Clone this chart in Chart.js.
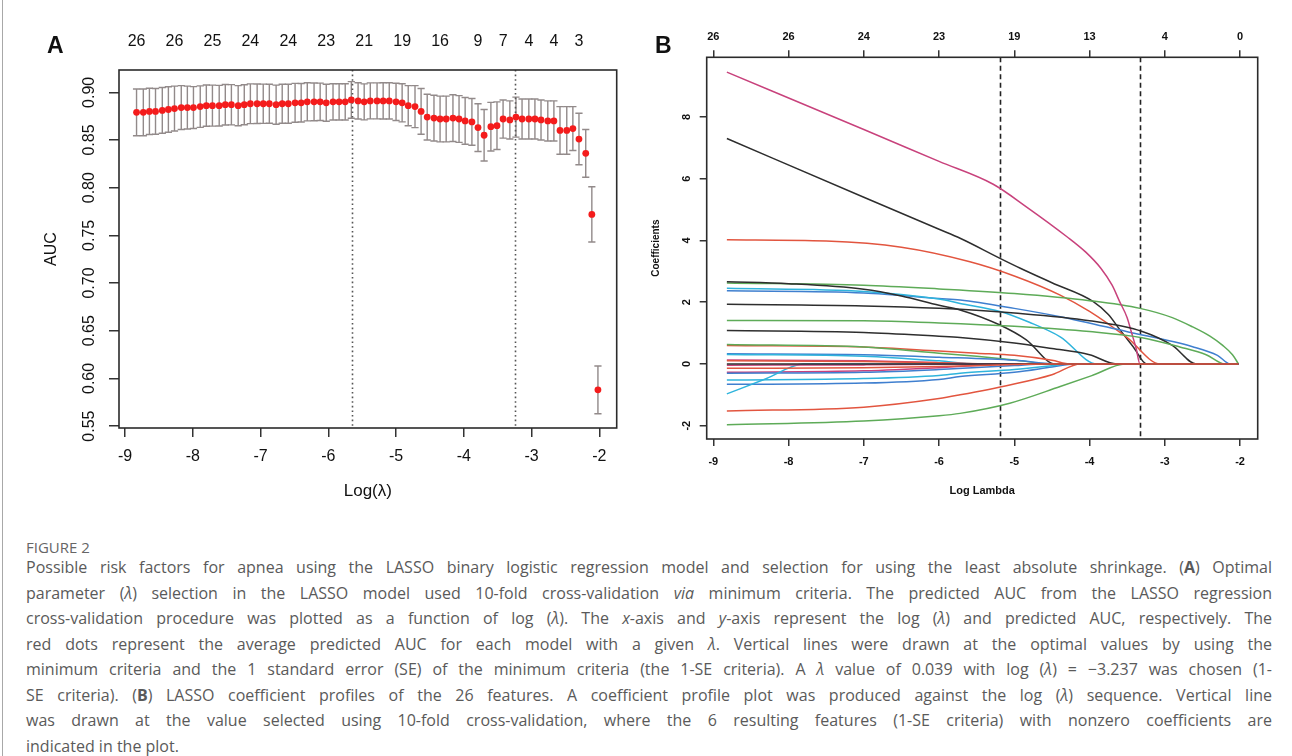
<!DOCTYPE html>
<html>
<head>
<meta charset="utf-8">
<script src="https://cdn.jsdelivr.net/npm/chart.js@4.4.1/dist/chart.umd.min.js"></script>
<style>
  body { margin: 0; background: #fff; width: 1292px; height: 756px; overflow: hidden; position: relative; font-family: 'Liberation Sans', Arial, sans-serif; }
  #frame { position: absolute; left: 2px; top: 0; width: 1px; height: 756px; background: #a8a8a8; }
  #cvA { position: absolute; left: 0; top: 0; }
  #cvB { position: absolute; left: 640px; top: 0; }
  .panel { position: absolute; font-weight: bold; font-size: 23px; color: #111; }
  #figno { position: absolute; left: 26px; top: 537px; font-family: 'Open Sans', sans-serif; font-size: 15px; color: #666; }
  #caption { position: absolute; left: 26px; top: 555px; width: 1246px; font-family: 'Open Sans', sans-serif; font-size: 16px; line-height: 25.5px; color: #5a5a5a; }
  #caption div { text-align: justify; text-align-last: justify; white-space: normal; }
  #caption div.last { text-align-last: left; }
</style>
</head>
<body>
<div id="frame"></div>
<canvas id="cvA" width="640" height="510"></canvas>
<canvas id="cvB" width="652" height="510"></canvas>
<div class="panel" style="left:47px; top:32px;">A</div>
<div class="panel" style="left:655px; top:32px;">B</div>
<div id="figno">FIGURE 2</div>
<div id="caption">
  <div>Possible risk factors for apnea using the LASSO binary logistic regression model and selection for using the least absolute shrinkage. (<b>A</b>) Optimal</div>
  <div>parameter (<i>λ</i>) selection in the LASSO model used 10-fold cross-validation <i>via</i> minimum criteria. The predicted AUC from the LASSO regression</div>
  <div>cross-validation procedure was plotted as a function of log (<i>λ</i>). The <i>x</i>-axis and <i>y</i>-axis represent the log (<i>λ</i>) and predicted AUC, respectively. The</div>
  <div>red dots represent the average predicted AUC for each model with a given <i>λ</i>. Vertical lines were drawn at the optimal values by using the</div>
  <div>minimum criteria and the 1 standard error (SE) of the minimum criteria (the 1-SE criteria). A <i>λ</i> value of 0.039 with log (<i>λ</i>) = −3.237 was chosen (1-</div>
  <div>SE criteria). (<b>B</b>) LASSO coefficient profiles of the 26 features. A coefficient profile plot was produced against the log (<i>λ</i>) sequence. Vertical line</div>
  <div>was drawn at the value selected using 10-fold cross-validation, where the 6 resulting features (1-SE criteria) with nonzero coefficients are</div>
  <div class="last">indicated in the plot.</div>
</div>
<script>
// ---- panel A: cross-validated AUC ----
const logLambda = [
  -8.83, -8.73, -8.64, -8.55, -8.45, -8.36, -8.27, -8.17, -8.08, -7.99,
  -7.89, -7.80, -7.71, -7.61, -7.52, -7.43, -7.33, -7.24, -7.15, -7.05,
  -6.96, -6.87, -6.77, -6.68, -6.59, -6.49, -6.40, -6.31, -6.21, -6.12,
  -6.03, -5.93, -5.84, -5.75, -5.66, -5.56, -5.47, -5.38, -5.28, -5.19,
  -5.10, -5.00, -4.91, -4.82, -4.72, -4.63, -4.54, -4.44, -4.35, -4.26,
  -4.16, -4.07, -3.98, -3.88, -3.79, -3.70, -3.60, -3.51, -3.42, -3.32,
  -3.23, -3.14, -3.04, -2.95, -2.86, -2.76, -2.67, -2.58, -2.48, -2.39,
  -2.30, -2.20, -2.11, -2.02
];
const cvm = [
  0.879, 0.879, 0.880, 0.880, 0.881, 0.882, 0.883, 0.884, 0.884, 0.884,
  0.885, 0.886, 0.886, 0.886, 0.887, 0.887, 0.886, 0.887, 0.888, 0.888,
  0.888, 0.888, 0.887, 0.888, 0.888, 0.889, 0.889, 0.890, 0.890, 0.890,
  0.889, 0.890, 0.890, 0.890, 0.892, 0.891, 0.890, 0.891, 0.891, 0.891,
  0.891, 0.890, 0.889, 0.886, 0.885, 0.880, 0.874, 0.873, 0.872, 0.872,
  0.873, 0.872, 0.870, 0.869, 0.863, 0.855, 0.864, 0.865, 0.872, 0.871,
  0.874, 0.872, 0.872, 0.872, 0.871, 0.870, 0.870, 0.860, 0.860, 0.862,
  0.851, 0.836, 0.772, 0.588
];
const cvsd = [
  0.0245, 0.0245, 0.0243, 0.0240, 0.0240, 0.0238, 0.0235, 0.0230, 0.0225, 0.0220,
  0.0218, 0.0216, 0.0215, 0.0213, 0.0212, 0.0211, 0.0210, 0.0210, 0.0208, 0.0207,
  0.0206, 0.0205, 0.0205, 0.0205, 0.0204, 0.0204, 0.0202, 0.0200, 0.0198, 0.0196,
  0.0194, 0.0190, 0.0190, 0.0190, 0.0192, 0.0190, 0.0189, 0.0189, 0.0189, 0.0190,
  0.0190, 0.0195, 0.0200, 0.0210, 0.0220, 0.0240, 0.0240, 0.0240, 0.0240, 0.0240,
  0.0245, 0.0245, 0.0245, 0.0245, 0.0250, 0.0270, 0.0255, 0.0250, 0.0200, 0.0200,
  0.0210, 0.0210, 0.0210, 0.0210, 0.0210, 0.0210, 0.0210, 0.0250, 0.0250, 0.0230,
  0.0270, 0.0250, 0.0290, 0.0250
];
const yTicksA = [0.55, 0.60, 0.65, 0.70, 0.75, 0.80, 0.85, 0.90];
const xTicks = [-9, -8, -7, -6, -5, -4, -3, -2];
const topPosA = [-8.83, -8.27, -7.71, -7.15, -6.59, -6.03, -5.47, -4.91, -4.35, -3.79, -3.42, -3.04, -2.67, -2.30];
const topNzA = [26, 26, 25, 24, 24, 23, 21, 19, 16, 9, 7, 4, 4, 3];
const lambdaLinesA = [-5.655, -3.237];

// ---- panel B: coefficient profiles ([log lambda, coefficient] knots) ----
const topNzB = [26, 26, 24, 23, 19, 13, 4, 0];
const yTicksB = [-2, 0, 2, 4, 6, 8];
const lambdaLinesB = [-5.19, -3.33];
const coefPaths = [
  [[-8.82, 7.30], [-7, 5.40], [-6, 4.36], [-5.72, 4.07], [-5.19, 3.42], [-4.92, 3.10], [-4.5, 2.63], [-3.95, 2.02], [-3.75, 1.60], [-3.6, 1.12], [-3.42, 0.56], [-3.24, 0], [-2.02, 0]],
  [[-8.82, 4.02], [-7.5, 3.98], [-6.5, 3.78], [-5.59, 3.31], [-5, 2.85], [-4.39, 2.23], [-4, 1.70], [-3.5, 0.85], [-3.06, 0], [-2.02, 0]],
  [[-8.82, 2.62], [-7, 2.55], [-6, 2.43], [-5, 2.28], [-4, 2.05], [-3.33, 1.80], [-2.9, 1.50], [-2.63, 1.20], [-2.4, 0.90], [-2.23, 0.60], [-2.1, 0.30], [-2.02, 0]],
  [[-8.82, 2.37], [-7, 2.30], [-6, 2.12], [-5.72, 2.07], [-5, 1.80], [-4.39, 1.53], [-3.51, 1.05], [-2.63, 0.56], [-2.3, 0.28], [-2.13, 0], [-2.02, 0]],
  [[-8.82, 2.45], [-7, 2.35], [-6, 2.10], [-5.72, 1.96], [-5.19, 1.70], [-4.8, 1.35], [-4.39, 0.88], [-3.9, 0], [-2.02, 0]],
  [[-8.82, 9.45], [-7, 7.59], [-6, 6.56], [-5.28, 5.82], [-4.84, 5.09], [-4.30, 4.12], [-4.05, 3.62], [-3.85, 3.10], [-3.7, 2.55], [-3.6, 2.02], [-3.5, 1.50], [-3.44, 1.00], [-3.38, 0.50], [-3.33, 0], [-2.02, 0]],
  [[-8.82, 2.66], [-8, 2.60], [-7, 2.42], [-6.5, 2.20], [-6, 1.90], [-5.72, 1.75], [-5.19, 1.26], [-4.84, 0.78], [-4.46, 0], [-2.02, 0]],
  [[-8.82, 0.60], [-7, 0.55], [-6, 0.42], [-5.5, 0.35], [-5, 0.28], [-4.5, 0.12], [-4.25, 0], [-2.02, 0]],
  [[-8.82, 0.63], [-7, 0.55], [-6, 0.35], [-5.5, 0.25], [-5, 0.13], [-4.5, 0], [-2.02, 0]],
  [[-8.82, 0.33], [-7, 0.30], [-6, 0.22], [-5, 0.12], [-4.4, 0], [-2.02, 0]],
  [[-8.82, 0.31], [-7, 0.25], [-6, 0.10], [-5.5, 0], [-2.02, 0]],
  [[-8.82, 0.13], [-7, 0.10], [-6, 0.04], [-5.5, 0], [-2.02, 0]],
  [[-8.82, 1.93], [-7, 1.88], [-6, 1.80], [-5, 1.65], [-4, 1.40], [-3.3, 1.05], [-2.9, 0.60], [-2.58, 0], [-2.02, 0]],
  [[-8.82, 0.10], [-7, 0.08], [-6, 0.04], [-5.3, 0], [-2.02, 0]],
  [[-8.82, 1.41], [-7, 1.40], [-6, 1.33], [-5, 1.22], [-4, 1.05], [-3.3, 0.85], [-2.8, 0.55], [-2.45, 0.30], [-2.2, 0], [-2.02, 0]],
  [[-8.82, -0.66], [-7, -0.62], [-6, -0.50], [-5.72, -0.41], [-5, -0.27], [-4.5, -0.10], [-4.2, 0], [-2.02, 0]],
  [[-8.82, -0.52], [-7, -0.47], [-6, -0.37], [-5.72, -0.30], [-5, -0.18], [-4.5, -0.06], [-4.3, 0], [-2.02, 0]],
  [[-8.82, -0.27], [-7, -0.22], [-6, -0.12], [-5.5, -0.05], [-5, 0], [-2.02, 0]],
  [[-8.82, 1.08], [-7, 1.02], [-6, 0.90], [-5.72, 0.86], [-5, 0.68], [-4.5, 0.50], [-4, 0.30], [-3.64, 0], [-2.02, 0]],
  [[-8.82, -1.52], [-7, -1.40], [-6, -1.12], [-5.72, -1.00], [-5.06, -0.68], [-4.5, -0.35], [-4.12, 0], [-2.02, 0]],
  [[-8.82, -1.97], [-7, -1.85], [-6, -1.68], [-5.72, -1.60], [-5.06, -1.27], [-4.39, -0.73], [-3.95, -0.36], [-3.53, 0], [-2.02, 0]],
  [[-8.82, -0.30], [-7, -0.27], [-6, -0.18], [-5, -0.05], [-4.6, 0], [-2.02, 0]],
  [[-8.82, -0.97], [-8.3, -0.48], [-7.8, 0], [-2.02, 0]],
  [[-8.82, -0.04], [-7, -0.03], [-6, -0.01], [-5.8, 0], [-2.02, 0]],
  [[-8.82, 0], [-2.02, 0]],
  [[-8.82, -0.14], [-7, -0.12], [-6, -0.08], [-5, -0.02], [-4.6, 0], [-2.02, 0]]
];
const coefColors = ['#2e2e2e', '#e2553f', '#5eab58', '#3f7fcf', '#2fb4dc', '#c8427c'];

Chart.defaults.font.family = "'Liberation Sans', Arial, sans-serif";
Chart.defaults.color = '#111';

const boxPlugin = {
  id: 'box',
  afterDatasetsDraw(chart) {
    const { ctx, chartArea: a } = chart;
    ctx.save();
    ctx.strokeStyle = '#2b2b2b';
    ctx.lineWidth = 1.6;
    ctx.strokeRect(a.left, a.top, a.right - a.left, a.bottom - a.top);
    ctx.restore();
  }
};

const vlinePlugin = {
  id: 'vlines',
  beforeDatasetsDraw(chart, args, opts) {
    const { ctx, chartArea: a, scales: { x } } = chart;
    ctx.save();
    ctx.strokeStyle = opts.color;
    ctx.lineWidth = opts.width;
    ctx.setLineDash(opts.dash);
    opts.at.forEach((v) => {
      const px = Math.round(x.getPixelForValue(v)) + 0.5;
      ctx.beginPath();
      ctx.moveTo(px, a.top);
      ctx.lineTo(px, a.bottom);
      ctx.stroke();
    });
    ctx.restore();
  }
};

const errorBarPlugin = {
  id: 'errbars',
  beforeDatasetsDraw(chart) {
    const { ctx, scales: { x, y } } = chart;
    ctx.save();
    ctx.strokeStyle = '#928a8a';
    ctx.lineWidth = 1.4;
    logLambda.forEach((l, i) => {
      const px = x.getPixelForValue(l);
      const hi = y.getPixelForValue(cvm[i] + cvsd[i]);
      const lo = y.getPixelForValue(cvm[i] - cvsd[i]);
      ctx.beginPath();
      ctx.moveTo(px, hi); ctx.lineTo(px, lo);
      ctx.moveTo(px - 3.6, hi); ctx.lineTo(px + 3.6, hi);
      ctx.moveTo(px - 3.6, lo); ctx.lineTo(px + 3.6, lo);
      ctx.stroke();
    });
    ctx.restore();
  }
};

function setTicks(values) {
  return (axis) => { axis.ticks = values.map((v) => ({ value: v })); };
}

function cvChart() {
  const ctx = document.getElementById('cvA');
  const tickFont = { size: 16 };

  new Chart(ctx, {
    type: 'scatter',
    data: {
      datasets: [
        {
          data: logLambda.map((l, i) => ({ x: l, y: cvm[i] })),
          pointRadius: 3.4,
          pointBackgroundColor: '#f41c1c',
          pointBorderColor: '#f41c1c',
          pointBorderWidth: 0,
          showLine: false,
        },
      ],
    },
    options: {
      responsive: false,
      animation: false,
      devicePixelRatio: 1,
      layout: { padding: { left: 0, right: 23.3, top: 0, bottom: 0 } },
      plugins: {
        legend: { display: false },
        tooltip: { enabled: false },
        vlines: { at: lambdaLinesA, color: '#555', width: 1.6, dash: [1.6, 3] },
      },
      scales: {
        x: {
          type: 'linear', position: 'bottom', min: -9.089, max: -1.743,
          afterBuildTicks: setTicks(xTicks),
          afterFit: (a) => { a.height = 82; },
          grid: { drawOnChartArea: false, tickLength: 9, color: '#333', lineWidth: 1.5 },
          border: { display: false },
          ticks: { font: tickFont, padding: 10, maxRotation: 0, autoSkip: false },
          title: { display: true, text: 'Log(λ)', font: { size: 17 }, padding: { top: 0, bottom: 8 } },
        },
        x2: {
          type: 'linear', position: 'top', min: -9.089, max: -1.743,
          afterBuildTicks: setTicks(topPosA),
          afterFit: (a) => { a.height = 70; },
          grid: { display: false, drawTicks: false },
          border: { display: false },
          ticks: { font: tickFont, padding: 19, maxRotation: 0, autoSkip: false, callback: (v, i) => String(topNzA[i]) },
        },
        y: {
          type: 'linear', min: 0.548, max: 0.9234,
          afterBuildTicks: setTicks(yTicksA),
          afterFit: (a) => { a.width = 119; },
          grid: { drawOnChartArea: false, tickLength: 10, color: '#333', lineWidth: 1.5 },
          border: { display: false },
          ticks: { font: tickFont, minRotation: 90, maxRotation: 90, crossAlign: 'center', padding: 4, autoSkip: false, callback: (v) => v.toFixed(2) },
          title: { display: true, text: 'AUC', font: { size: 16 }, padding: { top: 42, bottom: 0 } },
        },
      },
    },
    plugins: [errorBarPlugin, vlinePlugin, boxPlugin],
  });
}

function coefChart() {
  const ctx = document.getElementById('cvB');
  const tickFont = { size: 11, weight: 'bold' };
  const datasets = coefPaths.map((path, i) => ({
    data: path.map((p) => ({ x: p[0], y: p[1] })),
    borderColor: coefColors[i % 6],
    borderWidth: 1.5,
    pointRadius: 0,
    showLine: true,
    cubicInterpolationMode: 'monotone',
  })).reverse();

  new Chart(ctx, {
    type: 'scatter',
    data: { datasets },
    options: {
      responsive: false,
      animation: false,
      devicePixelRatio: 1,
      layout: { padding: { left: 0, right: 34.3, top: 0, bottom: 0 } },
      plugins: {
        legend: { display: false },
        tooltip: { enabled: false },
        vlines: { at: lambdaLinesB, color: '#222', width: 1.6, dash: [5, 3.5] },
      },
      scales: {
        x: {
          type: 'linear', position: 'bottom', min: -9.088, max: -1.765,
          afterBuildTicks: setTicks(xTicks),
          afterFit: (a) => { a.height = 71; },
          grid: { drawOnChartArea: false, tickLength: 7, color: '#333', lineWidth: 1.5 },
          border: { display: false },
          ticks: { font: tickFont, padding: 9, maxRotation: 0, autoSkip: false },
          title: { display: true, text: 'Log Lambda', font: { size: 11, weight: 'bold' }, padding: { top: 0, bottom: 12 } },
        },
        x2: {
          type: 'linear', position: 'top', min: -9.088, max: -1.765,
          afterBuildTicks: setTicks(xTicks),
          afterFit: (a) => { a.height = 57.3; },
          grid: { drawOnChartArea: false, tickLength: 7, color: '#333', lineWidth: 1.5 },
          border: { display: false },
          ticks: { font: tickFont, padding: 7, maxRotation: 0, autoSkip: false, callback: (v, i) => String(topNzB[i]) },
        },
        y: {
          type: 'linear', min: -2.43, max: 9.93,
          afterBuildTicks: setTicks(yTicksB),
          afterFit: (a) => { a.width = 66.7; },
          grid: { drawOnChartArea: false, tickLength: 7, color: '#333', lineWidth: 1.5 },
          border: { display: false },
          ticks: { font: tickFont, minRotation: 90, maxRotation: 90, crossAlign: 'center', padding: 8, autoSkip: false },
          title: { display: true, text: 'Coefficients', font: { size: 10, weight: 'bold' }, padding: { top: 10.7, bottom: 0 } },
        },
      },
    },
    plugins: [vlinePlugin, boxPlugin],
  });
}

document.addEventListener('DOMContentLoaded', () => {
  cvChart();
  coefChart();
});
</script>
</body>
</html>
